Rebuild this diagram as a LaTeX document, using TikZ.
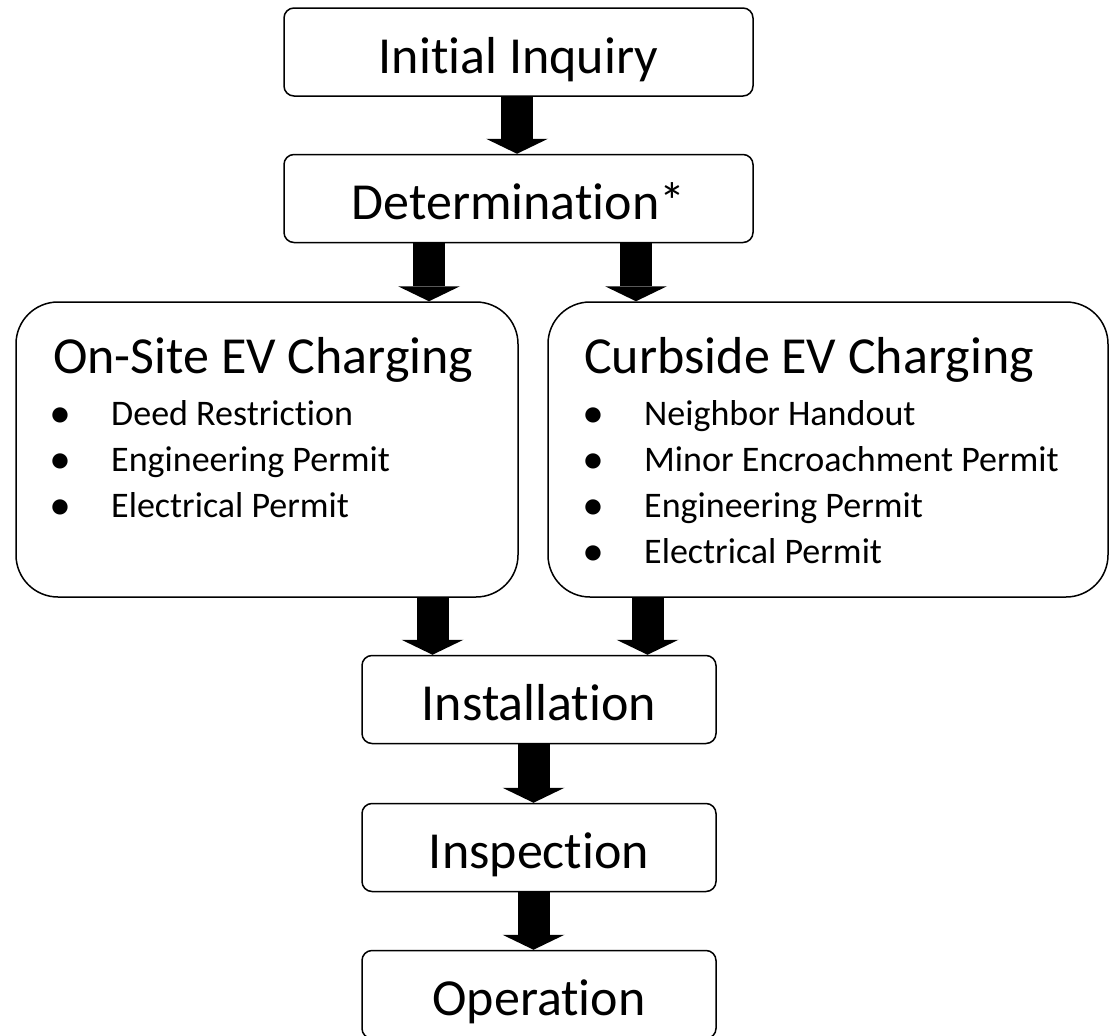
\documentclass[tikz,border=0pt]{standalone}
\usepackage{fontspec}
\setmainfont{Carlito}[Ligatures=NoCommon]
\usetikzlibrary{arrows.meta,positioning,calc}

\tikzset{
	stepbox/.style={draw, line width=1.5pt, rounded corners=10pt, minimum height=88pt, inner sep=0pt, text height=42pt, text depth=0pt, font=\fontsize{52}{60}\selectfont},
	bigbox/.style={draw, line width=1.5pt, rounded corners=42pt, minimum height=295pt, inner sep=0pt},
	head/.style={anchor=base west, inner sep=0pt, font=\fontsize{52}{60}\selectfont},
	item/.style={anchor=base west, inner sep=0pt, font=\fontsize{36}{42}\selectfont},
	dot/.style={anchor=base, inner sep=0pt, font=\bfseries\fontsize{36}{42}\selectfont},
	fat/.style={line width=32pt, -{Triangle[width=62pt,length=15pt,line width=0pt]}}
}

\begin{document}
\begin{tikzpicture}[x=1pt,y=-1pt]
	\useasboundingbox (0,0) rectangle (1112,1036);
	\node[stepbox, minimum width=469pt] (inq) at (518.5,52) {Initial Inquiry};
	\node[stepbox, minimum width=469pt] (det) at (518.5,198.5) {Determination*};
	\node[bigbox, minimum width=502pt] (onsite) at (267,449.5) {};
	\node[bigbox, minimum width=560pt] (curb) at (828,449.5) {};
	\node[stepbox, minimum width=354pt] (inst) at (539,699.5) {Installation};
	\node[stepbox, minimum width=354pt] (insp) at (539,847.5) {Inspection};
	\node[stepbox, minimum width=354pt] (oper) at (539,994.5) {Operation};

	\node[head] (onsitehead) at (53,373) {On-Site EV Charging};
	\foreach \t [count=\i] in {Deed Restriction, Engineering Permit, Electrical Permit} {
		\node[dot] (onsitedot\i) at (60,379+46*\i) {•};
		\node[item] (onsiteitem\i) at (111,379+46*\i) {\t};
	}
	\node[head] (curbhead) at (584,373) {Curbside EV Charging};
	\foreach \t [count=\i] in {Neighbor Handout, Minor Encroachment Permit, Engineering Permit, Electrical Permit} {
		\node[dot] (curbdot\i) at (593,379+46*\i) {•};
		\node[item] (curbitem\i) at (644,379+46*\i) {\t};
	}

	\coordinate (c1) at (517,0);
	\coordinate (c2) at (429,0);
	\coordinate (c3) at (636,0);
	\coordinate (c4) at (432.5,0);
	\coordinate (c5) at (647.5,0);
	\coordinate (c6) at (533.5,0);
	\draw [fat] (inq.south -| c1) -- (det.north -| c1);
	\draw [fat] (det.south -| c2) -- (onsite.north -| c2);
	\draw [fat] (det.south -| c3) -- (curb.north -| c3);
	\draw [fat] (onsite.south -| c4) -- (inst.north -| c4);
	\draw [fat] (curb.south -| c5) -- (inst.north -| c5);
	\draw [fat] (inst.south -| c6) -- (insp.north -| c6);
	\draw [fat] (insp.south -| c6) -- (oper.north -| c6);
\end{tikzpicture}
\end{document}
